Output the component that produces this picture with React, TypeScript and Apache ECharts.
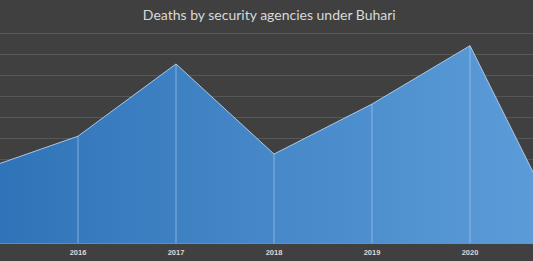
import React, { useEffect, useRef } from "react";
import * as echarts from "echarts";

const years = ["2015", "2016", "2017", "2018", "2019", "2020", "2021"];
const deaths = [347, 510, 854, 425, 663, 941, 5];
const titleText = "Deaths by security agencies under Buhari";

const OFFSET = 19.7;
const INNER_W = 587.7;

export default function App() {
  const ref = useRef<HTMLDivElement>(null);
  useEffect(() => {
    document.body.style.margin = "0";
    const chart = echarts.init(ref.current!, null, { renderer: "svg" });
    chart.setOption({
      animation: false,
      backgroundColor: "#404040",
      graphic: [
        {
          type: "text",
          x: 269.6 + OFFSET,
          y: 14.5,
          style: {
            text: titleText,
            fill: "#d9d9d9",
            fontSize: 14,
            fontFamily: "Lato",
            fontWeight: "normal",
            align: "center",
            verticalAlign: "middle",
          },
        },
      ],
      grid: {
        left: 0,
        right: 0,
        top: 33.3,
        bottom: 17.7,
        containLabel: false,
        outerBoundsMode: "none",
      },
      xAxis: {
        type: "category",
        data: years,
        boundaryGap: false,
        axisLine: { lineStyle: { color: "#8a8a8a", width: 1 } },
        axisTick: { show: false },
        axisLabel: {
          color: "#d9d9d9",
          fontSize: 7.5,
          fontWeight: "bold",
          fontFamily: "Liberation Sans",
          margin: 5,
          interval: 0,
          formatter: (v: string, i: number) =>
            i === 0 || i === years.length - 1 ? "" : v,
        },
        splitLine: { show: false },
      },
      yAxis: {
        type: "value",
        min: 0,
        max: 1000,
        interval: 100,
        axisLabel: { show: false },
        axisLine: { show: false },
        axisTick: { show: false },
        splitLine: { lineStyle: { color: "#575757", width: 1 } },
      },
      series: [
        {
          type: "line",
          data: deaths,
          symbol: "none",
          lineStyle: { color: "#a9c8e8", width: 1 },
          areaStyle: {
            opacity: 1,
            color: new echarts.graphic.LinearGradient(0, 0, 1, 0, [
              { offset: 0, color: "#2e72b7" },
              { offset: 1, color: "#5e9eda" },
            ]),
          },
          z: 2,
        },
        {
          type: "bar",
          data: deaths,
          barWidth: 1,
          itemStyle: { color: "rgba(190,215,240,0.55)" },
          z: 3,
        },
      ],
    });
    return () => chart.dispose();
  }, []);
  return (
    <div
      style={{
        position: "absolute",
        left: 0,
        top: 0,
        width: 533,
        height: 261,
        overflow: "hidden",
        background: "#404040",
      }}
    >
      <div
        ref={ref}
        style={{
          position: "absolute",
          left: -OFFSET,
          top: 0,
          width: INNER_W,
          height: 261,
        }}
      />
    </div>
  );
}
